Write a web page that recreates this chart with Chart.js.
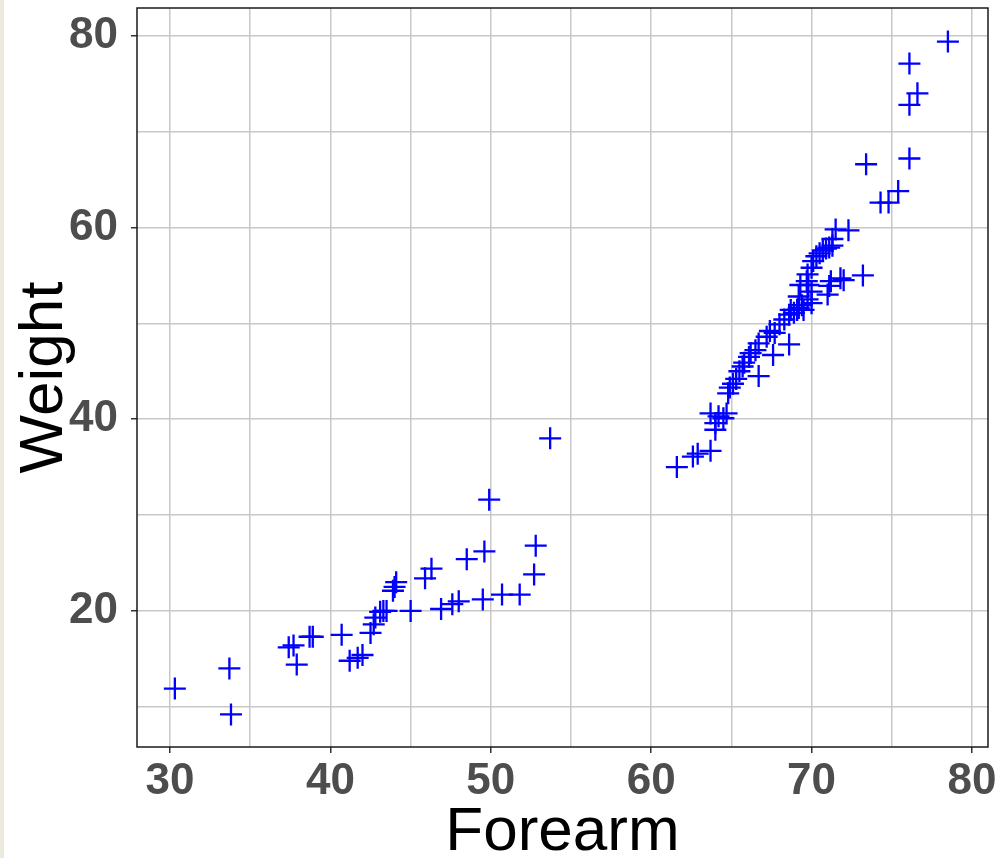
<!DOCTYPE html>
<html>
<head>
<meta charset="utf-8">
<script src="https://cdn.jsdelivr.net/npm/chart.js@4/dist/chart.umd.min.js"></script>
<style>
  html, body { margin: 0; padding: 0; background: #ffffff; }
  #wrap { position: relative; width: 1002px; height: 858px; }
  #strip { position: absolute; left: 0; top: 0; width: 4px; height: 858px; background: #ECE9DE; }
  canvas { position: absolute; left: 0; top: 0; }
</style>
</head>
<body>
<div id="wrap">
  <canvas id="c" width="1002" height="858"></canvas>
  <div id="strip"></div>
</div>
<script>
// Data
const forearm = [
  30.3, 33.7, 33.8, 37.4, 37.7, 37.9, 38.7, 38.9, 40.7, 41.2, 41.7, 42.0,
  42.5, 42.7, 42.8, 43.1, 43.3, 43.5, 43.9, 44.0, 44.1, 45.0, 45.9, 46.3,
  46.9, 47.6, 48.0, 48.5, 49.5, 49.6, 49.9, 50.7, 51.8, 52.7, 52.8, 53.7,
  61.6, 62.6, 62.9, 63.7, 64.0, 64.0, 63.7, 64.2, 64.5, 64.7, 64.8, 64.9,
  65.1, 65.3, 65.5, 65.7, 65.8, 66.1, 66.2, 66.5, 66.7, 66.7, 67.2, 67.4,
  67.6, 67.7, 68.0, 68.3, 68.6, 68.6, 68.7, 68.9, 69.1, 69.2, 69.2, 69.4,
  69.5, 69.3, 69.7, 69.8, 69.75, 69.75, 70.0, 70.0, 70.0, 70.1, 70.3, 70.5,
  70.7, 70.9, 71.1, 71.3, 71.0, 71.1, 71.2, 71.3, 71.5, 71.8, 72.0, 72.3,
  73.2, 73.4, 74.3, 74.8, 75.4, 76.1, 76.1, 76.6, 76.1, 78.5
];
const weight = [
  11.9, 14.0, 9.2, 16.2, 16.4, 14.4, 17.3, 17.3, 17.5, 14.8, 15.1, 15.4,
  17.7, 18.6, 19.3, 19.9, 20.0, 20.0, 22.1, 22.5, 23.0, 20.0, 23.4, 24.4,
  20.2, 20.7, 21.0, 25.4, 21.2, 26.2, 31.6, 21.7, 21.7, 23.8, 26.8, 38.0,
  35.0, 36.1, 36.4, 36.7, 38.9, 39.6, 40.6, 40.3, 40.1, 40.6, 42.7, 43.3,
  43.7, 44.2, 45.0, 45.5, 45.9, 46.5, 46.9, 47.2, 44.5, 47.9, 48.6, 49.2,
  46.7, 49.0, 49.9, 50.4, 47.8, 50.9, 51.4, 51.1, 51.4, 51.6, 52.8, 51.9,
  51.4, 54.0, 54.4, 54.0, 55.1, 52.5, 52.1, 53.3, 55.8, 56.5, 57.0, 57.3,
  57.6, 57.8, 57.9, 58.1, 53.0, 53.9, 54.4, 58.8, 59.8, 54.7, 54.5, 59.7,
  55.0, 66.6, 62.6, 62.6, 63.8, 67.2, 72.8, 74.0, 77.1, 79.4
];
const xTicks = [30, 35, 40, 45, 50, 55, 60, 65, 70, 75, 80];
const xLabels = [30, 40, 50, 60, 70, 80];
const yTicks = [10, 20, 30, 40, 50, 60, 70, 80];
const yLabels = [20, 40, 60, 80];
const xTitle = 'Forearm';
const yTitle = 'Weight';

const points = forearm.map((x, i) => ({ x: x, y: weight[i] }));

// keep the marker size from reserving extra room around the plot area
Chart.ScatterController.prototype.getMaxOverflow = function () { return 0; };

const frame = {
  id: 'frame',
  afterDatasetsDraw(chart) {
    const a = chart.chartArea, ctx = chart.ctx;
    ctx.save();
    ctx.strokeStyle = '#1a1a1a';
    ctx.lineWidth = 1.5;
    ctx.strokeRect(a.left, a.top, a.right - a.left, a.bottom - a.top);
    ctx.restore();
  }
};

const tickFont = { family: "'Liberation Sans', Arial, sans-serif", size: 44, weight: 'bold' };
const titleFont = { family: "'Liberation Sans', Arial, sans-serif", size: 62 };

new Chart(document.getElementById('c'), {
  type: 'scatter',
  data: {
    datasets: [{
      data: points,
      pointStyle: 'cross',
      pointRadius: 11,
      pointHoverRadius: 11,
      borderColor: '#0000FF',
      backgroundColor: '#0000FF',
      borderWidth: 2.3,
      clip: false
    }]
  },
  options: {
    responsive: false,
    animation: false,
    events: [],
    layout: { padding: { top: 8, right: 14, left: 0, bottom: 0 } },
    plugins: { legend: { display: false }, tooltip: { enabled: false } },
    scales: {
      x: {
        type: 'linear',
        min: 27.94,
        max: 81.0,
        afterBuildTicks(s) { s.ticks = xTicks.map(v => ({ value: v })); },
        afterFit(s) { s.height = 111; s.paddingLeft = 0; s.paddingRight = 0; },
        ticks: {
          autoSkip: false,
          maxRotation: 0,
          padding: 2,
          color: '#4D4D4D',
          font: tickFont,
          callback: (v) => xLabels.includes(v) ? String(v) : ''
        },
        grid: {
          color: '#C8C8C8',
          lineWidth: 1.5,
          drawTicks: true,
          tickLength: 6,
          tickColor: (c) => (c.tick && xLabels.includes(c.tick.value)) ? '#333333' : 'rgba(0,0,0,0)'
        },
        border: { display: false },
        title: { display: true, text: xTitle, color: '#000000', font: titleFont, padding: { top: 0, bottom: -12 } }
      },
      y: {
        type: 'linear',
        min: 5.8,
        max: 82.9,
        afterBuildTicks(s) { s.ticks = yTicks.map(v => ({ value: v })); },
        afterFit(s) { s.width = 137; s.paddingTop = 0; s.paddingBottom = 0; },
        ticks: {
          autoSkip: false,
          padding: 13,
          color: '#4D4D4D',
          font: tickFont,
          callback: (v) => yLabels.includes(v) ? String(v) : ''
        },
        grid: {
          color: '#C8C8C8',
          lineWidth: 1.5,
          drawTicks: true,
          tickLength: 6,
          tickColor: (c) => (c.tick && yLabels.includes(c.tick.value)) ? '#333333' : 'rgba(0,0,0,0)'
        },
        border: { display: false },
        title: { display: true, text: yTitle, color: '#000000', font: titleFont, padding: { top: 8, bottom: 0 } }
      }
    }
  },
  plugins: [frame]
});
</script>
</body>
</html>
